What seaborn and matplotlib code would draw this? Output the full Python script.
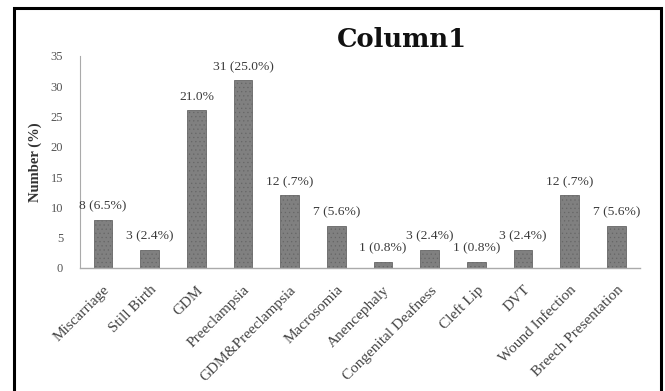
import matplotlib
matplotlib.use("Agg")
import matplotlib.pyplot as plt
import seaborn as sns
import pandas as pd
from matplotlib.patches import Rectangle

categories = ["Miscarriage", "Still Birth", "GDM", "Preeclampsia", "GDM&Preeclampsia",
              "Macrosomia", "Anencephaly", "Congenital Deafness", "Cleft Lip", "DVT",
              "Wound Infection", "Breech Presentation"]
values = [8, 3, 26, 31, 12, 7, 1, 3, 1, 3, 12, 7]
bar_labels = ["8 (6.5%)", "3 (2.4%)", "21.0%", "31 (25.0%)", "12 (.7%)", "7 (5.6%)",
              "1 (0.8%)", "3 (2.4%)", "1 (0.8%)", "3 (2.4%)", "12 (.7%)", "7 (5.6%)"]
yticks = [0, 5, 10, 15, 20, 25, 30, 35]

df = pd.DataFrame({"cat": categories, "val": values})

sns.set_style("white")
plt.rcParams['font.family'] = ['Liberation Serif', 'DejaVu Serif']
plt.rcParams['hatch.color'] = '#a0a0a0'
plt.rcParams['hatch.linewidth'] = 0.4

fig = plt.figure(figsize=(6.65, 3.91), dpi=100)
ax = fig.add_axes([0.120, 0.3146, 0.842, 0.5424])

sns.barplot(data=df, x="cat", y="val", ax=ax, color="#808080", saturation=1,
            width=0.40, edgecolor="#666666", linewidth=0.6)
for p in ax.patches:
    p.set_hatch("....")

for i, (v, lab) in enumerate(zip(values, bar_labels)):
    ax.text(i, v + 1.2, lab, ha="center", va="bottom", fontsize=9.7, color="#3a3a3a")

ax.set_ylim(0, 35)
ax.set_xlim(-0.5, 11.5)
ax.set_yticks(yticks)
ax.set_yticklabels([str(t) for t in yticks], fontsize=9, color="#555555")
ax.tick_params(axis="y", length=0, pad=12)
ax.set_xticks(range(len(categories)))
ax.set_xticklabels(categories, rotation=45, ha="right", rotation_mode="anchor",
                   fontsize=11, color="#444444")
ax.tick_params(axis="x", length=0, pad=11)
ax.set_xlabel("")
ax.set_ylabel("Number (%)", fontsize=10.5, fontweight="bold", color="#333333", labelpad=6)

for s in ["top", "right"]:
    ax.spines[s].set_visible(False)
ax.spines["left"].set_color("#aaaaaa")
ax.spines["left"].set_linewidth(0.8)
ax.spines["bottom"].set_color("#aaaaaa")
ax.spines["bottom"].set_linewidth(1.0)

fig.text(0.605, 0.898, "Column1", ha="center", va="center", fontsize=18.5,
         fontweight="bold", color="#111111", family=["DejaVu Serif"])

border = Rectangle((0.021, -0.05), 0.973, 1.0295, transform=fig.transFigure,
                   fill=False, edgecolor="black", linewidth=2.2)
fig.patches.append(border)

fig.savefig("out.png", dpi=100)
